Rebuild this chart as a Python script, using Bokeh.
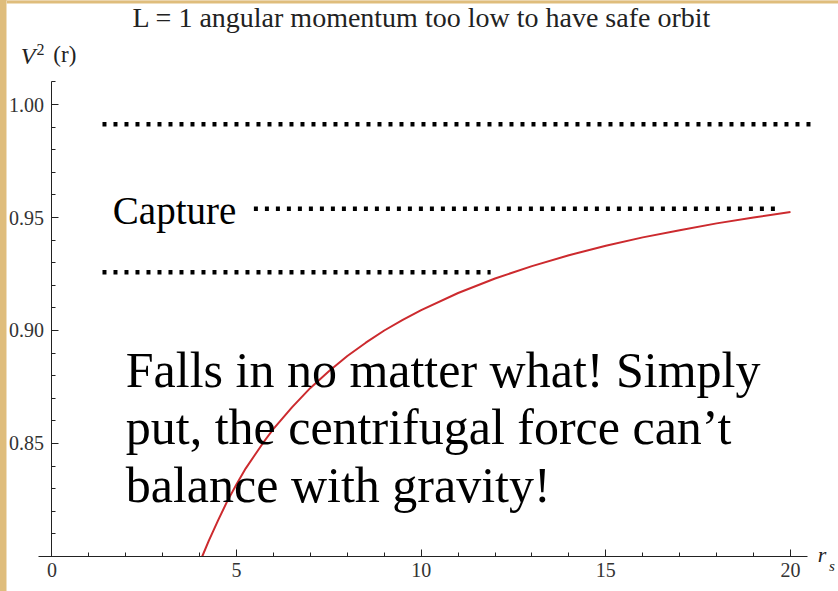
from bokeh.plotting import figure
from bokeh.models import Range1d, FixedTicker, Label, NumeralTickFormatter, BoxAnnotation
from bokeh.layouts import column
from bokeh.embed import file_html
from bokeh.resources import INLINE

# Radius in units of r_s and the squared effective potential V^2(r) for L = 1
r_vals = [4.07, 4.25, 4.5, 4.75, 5.0, 5.25, 5.5, 5.75, 6.0, 6.5, 7.0, 7.5,
          8.0, 8.5, 9.0, 9.5, 10.0, 11.0, 12.0, 13.0, 14.0, 15.0, 16.0,
          17.0, 18.0, 19.0, 20.0]
v2_vals = [0.800, 0.807, 0.816, 0.8245, 0.832, 0.839, 0.845, 0.851, 0.8565,
           0.866, 0.8746, 0.882, 0.8887, 0.8946, 0.900, 0.9047, 0.909, 0.9166,
           0.923, 0.9285, 0.9333, 0.9375, 0.9412, 0.9444, 0.9474, 0.950, 0.9524]

# Axis ticks
x_major = [0, 5, 10, 15, 20]
x_minor = [1, 2, 3, 4, 6, 7, 8, 9, 11, 12, 13, 14, 16, 17, 18, 19]
y_major = [0.85, 0.90, 0.95, 1.00]
y_minor = [0.81, 0.82, 0.83, 0.84, 0.86, 0.87, 0.88, 0.89, 0.91, 0.92,
           0.93, 0.94, 0.96, 0.97, 0.98, 0.99, 1.01]

# Hand-drawn energy levels (dotted guides)
guide_y = [0.9913, 0.9539, 0.9258]
guide_x0 = [1.37, 5.47, 1.37]
guide_x1 = [20.60, 19.59, 11.88]

title_text = "L = 1 angular momentum too low to have safe orbit"
capture_text = "Capture"
note_lines = ["Falls in no matter what! Simply",
              "put, the centrifugal force can\u2019t",
              "balance with gravity!"]
note_baselines = [0.8748, 0.8496, 0.8239]

SERIF = "Liberation Serif"
INK = "#222222"
WOOD = "#dfbd7c"
Y_PER_PX = 0.05 / 113          # vertical data units per screen pixel
DESCENT = 0.216                 # font descent as a fraction of the size

# The frame fills the whole figure; both axes are pinned at the origin
p = figure(width=832, height=591, title=None,
           x_range=Range1d(-1.229, 21.30), y_range=Range1d(0.78451, 1.04602),
           output_backend="svg", toolbar_location=None,
           min_border_left=0, min_border_right=0,
           min_border_top=0, min_border_bottom=0)
p.margin = (0, 0, 0, 6)
p.outline_line_color = None
p.grid.visible = False
p.background_fill_color = "white"
p.border_fill_color = "white"

# thin wooden strip along the top edge
p.add_layout(BoxAnnotation(bottom=1.04469, fill_color=WOOD, fill_alpha=1.0,
                           line_color=None, level="underlay"))

for ax in (p.xaxis[0], p.yaxis[0]):
    ax.axis_line_color = INK
    ax.major_tick_line_color = INK
    ax.minor_tick_line_color = INK
    ax.major_tick_in = 7
    ax.major_tick_out = 0
    ax.minor_tick_in = 4
    ax.minor_tick_out = 0
    ax.major_label_text_font = SERIF
    ax.major_label_text_font_size = "20px"
    ax.major_label_text_color = "#333333"

p.xaxis[0].ticker = FixedTicker(ticks=x_major, minor_ticks=x_minor)
p.xaxis[0].bounds = (-0.37, 20.46)
p.xaxis[0].fixed_location = 0.80
p.xaxis[0].major_label_standoff = 7

p.yaxis[0].ticker = FixedTicker(ticks=y_major, minor_ticks=y_minor)
p.yaxis[0].formatter = NumeralTickFormatter(format="0.00")
p.yaxis[0].bounds = (0.80, 1.01)
p.yaxis[0].fixed_location = 0
p.yaxis[0].major_label_standoff = 8

# The potential curve
p.line(r_vals, v2_vals, line_color="#cc2a2e", line_width=2)

# Dotted energy levels
p.segment(x0=guide_x0, y0=guide_y, x1=guide_x1, y1=guide_y,
          line_color="black", line_width=4.5, line_dash="4 7")


def add_text(x, baseline, text, size, color=INK, style="normal", align="left"):
    # Labels are anchored at the bottom of the text box; shift by the descent
    # so that `baseline` is where the letters sit.
    y = baseline - DESCENT * size * Y_PER_PX
    p.add_layout(Label(x=x, y=y, text=text, text_font=SERIF,
                       text_font_size=f"{size}px", text_font_style=style,
                       text_color=color, text_align=align,
                       text_baseline="bottom"))


# Title and axis labels
add_text(10.02, 1.0345, title_text, 28, align="center")
add_text(-0.84, 1.0181, "V", 24, style="italic")
add_text(-0.42, 1.0235, "2", 16)
add_text(0.04, 1.0190, "(r)", 23)
add_text(20.74, 0.7974, "r", 22, style="italic")
add_text(21.04, 0.7938, "s", 15, style="italic")

# Annotations
add_text(1.65, 0.9473, capture_text, 39, color="black")
for line, yb in zip(note_lines, note_baselines):
    add_text(2.00, yb, line, 50, color="black")

page = column(p, width=838, height=591, styles={"background-color": WOOD})

open("out.html", "w").write(file_html(page, INLINE))
